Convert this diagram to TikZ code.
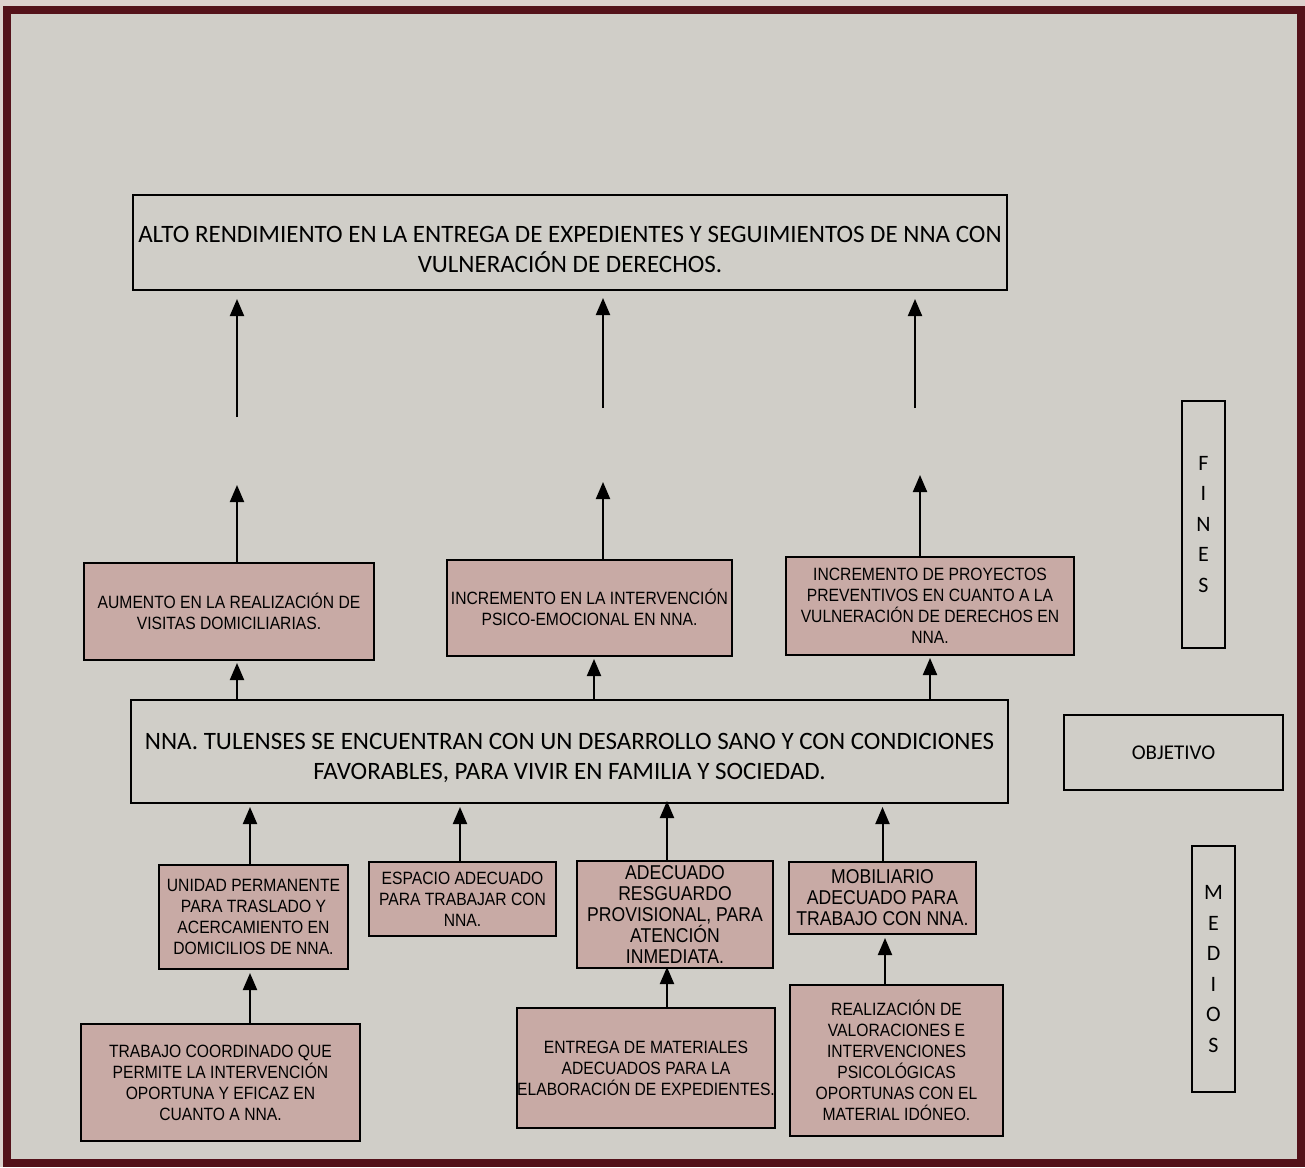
\documentclass[tikz,border=0pt]{standalone}
\usepackage{fontspec}
\setmainfont{Carlito}
\newfontfamily\cajafont[FakeStretch=0.88]{Liberation Sans}
\usetikzlibrary{arrows.meta}

\definecolor{marco}{HTML}{54121A}
\definecolor{fondo}{HTML}{D0CEC8}
\definecolor{afuera}{HTML}{DDD2CE}
\definecolor{rosa}{HTML}{C8AAA5}

\tikzset{
  caja/.style={draw=black, line width=2pt, fill=rosa, align=center, inner sep=0pt,
    font=\cajafont\fontsize{17.8}{21}\selectfont},
  cajagrande/.style={caja, font=\cajafont\fontsize{20}{21}\selectfont},
  marcobox/.style={draw=black, line width=2pt, align=center, inner sep=0pt,
    font=\fontsize{25}{30}\selectfont},
  letras/.style={marcobox, font=\fontsize{22}{30.5}\selectfont},
  flecha/.style={line width=2pt, -{Triangle[length=17pt,width=14pt]}},
}

\begin{document}
\begin{tikzpicture}[x=1pt,y=-1pt]

	\useasboundingbox[fill=afuera] (0,0) rectangle (1305,1167);
	\draw[marco, line width=8pt, fill=fondo] (7,10) rectangle (1301,1163);

	% fin
	\node[marcobox, minimum width=874pt, minimum height=95pt, text height=60pt] (fin) at (570,242.5)
	    {ALTO RENDIMIENTO EN LA ENTREGA DE EXPEDIENTES Y SEGUIMIENTOS DE NNA CON\\VULNERACIÓN DE DERECHOS.};

	% fines
	\node[caja, minimum width=290pt, minimum height=97pt] (aumento) at (229,611.5)
	    {AUMENTO EN LA REALIZACIÓN DE\\VISITAS DOMICILIARIAS.};
	\node[caja, minimum width=285pt, minimum height=96pt, text depth=2pt] (intervencion) at (589.5,608)
	    {INCREMENTO EN LA INTERVENCIÓN\\PSICO-EMOCIONAL EN NNA.};
	\node[caja, minimum width=288pt, minimum height=98pt] (proyectos) at (930,606)
	    {INCREMENTO DE PROYECTOS\\PREVENTIVOS EN CUANTO A LA\\VULNERACIÓN DE DERECHOS EN\\NNA.};

	% objetivo
	\node[marcobox, minimum width=877pt, minimum height=103pt, text height=59pt] (obj) at (569.5,751.5)
	    {NNA. TULENSES SE ENCUENTRAN CON UN DESARROLLO SANO Y CON CONDICIONES\\FAVORABLES, PARA VIVIR EN FAMILIA Y SOCIEDAD.};

	% medios
	\node[caja, minimum width=189pt, minimum height=104pt] (unidad) at (253.5,917)
	    {UNIDAD PERMANENTE\\PARA TRASLADO Y\\ACERCAMIENTO EN\\DOMICILIOS DE NNA.};
	\node[caja, minimum width=187pt, minimum height=74pt] (espacio) at (462.5,899)
	    {ESPACIO ADECUADO\\PARA TRABAJAR CON\\NNA.};
	\node[cajagrande, minimum width=196pt, minimum height=107pt] (resguardo) at (675,914.5)
	    {ADECUADO\\RESGUARDO\\PROVISIONAL, PARA\\ATENCIÓN\\INMEDIATA.};
	\node[cajagrande, minimum width=187pt, minimum height=72pt] (mobiliario) at (882.5,898)
	    {MOBILIARIO\\ADECUADO PARA\\TRABAJO CON NNA.};

	\node[caja, minimum width=279pt, minimum height=117pt] (trabajo) at (220.5,1082.5)
	    {TRABAJO COORDINADO QUE\\PERMITE LA INTERVENCIÓN\\OPORTUNA Y EFICAZ EN\\CUANTO A NNA.};
	\node[caja, minimum width=258pt, minimum height=120pt] (entrega) at (646,1068)
	    {ENTREGA DE MATERIALES\\ADECUADOS PARA LA\\ELABORACIÓN DE EXPEDIENTES.};
	\node[caja, minimum width=213pt, minimum height=151pt] (realizacion) at (896.5,1060.5)
	    {REALIZACIÓN DE\\VALORACIONES E\\INTERVENCIONES\\PSICOLÓGICAS\\OPORTUNAS CON EL\\MATERIAL IDÓNEO.};

	% etiquetas al lado
	\node[letras, minimum width=43pt, minimum height=247pt] (fines) at (1203.5,524.5) {F\\I\\N\\E\\S};
	\node[marcobox, minimum width=219pt, minimum height=75pt, font=\fontsize{21}{25}\selectfont] (objetivo) at (1173.5,752.5) {OBJETIVO};
	\node[letras, minimum width=43pt, minimum height=246pt] (medios) at (1213.5,969) {M\\E\\D\\I\\O\\S};

	% flechas con corte
	\coordinate (g1) at (237,417);
	\coordinate (g2) at (603,408);
	\coordinate (g3) at (915,408);
	\coordinate (h1) at (237,485);
	\coordinate (h2) at (603,482);
	\coordinate (h3) at (920,475);

	\draw[flecha, shorten >=8pt] (g1) -- (g1 |- fin.south);
	\draw[flecha, shorten >=7pt] (g2) -- (g2 |- fin.south);
	\draw[flecha, shorten >=8pt] (g3) -- (g3 |- fin.south);
	\draw[flecha] (h1 |- aumento.north) -- (h1);
	\draw[flecha] (h2 |- intervencion.north) -- (h2);
	\draw[flecha] (h3 |- proyectos.north) -- (h3);

	% objetivo -> fines
	\draw[flecha, shorten >=2pt] ([xshift=8pt]aumento.south |- obj.north) -- ([xshift=8pt]aumento.south);
	\draw[flecha, shorten >=2pt] ([xshift=4.5pt]intervencion.south |- obj.north) -- ([xshift=4.5pt]intervencion.south);
	\draw[flecha, shorten >=2pt] (proyectos.south |- obj.north) -- (proyectos.south);

	% medios -> objetivo
	\draw[flecha, shorten >=3pt] ([xshift=-3.5pt]unidad.north) -- ([xshift=-3.5pt]unidad.north |- obj.south);
	\draw[flecha, shorten >=3pt] ([xshift=-2.5pt]espacio.north) -- ([xshift=-2.5pt]espacio.north |- obj.south);
	\draw[flecha, shorten >=-3pt] ([xshift=-8pt]resguardo.north) -- ([xshift=-8pt]resguardo.north |- obj.south);
	\draw[flecha, shorten >=3pt] (mobiliario.north) -- (mobiliario.north |- obj.south);

	\draw[flecha, shorten >=3pt] ([xshift=-3.5pt]unidad.south |- trabajo.north) -- ([xshift=-3.5pt]unidad.south);
	\draw[flecha, shorten >=-2pt] ([xshift=-8pt]resguardo.south |- entrega.north) -- ([xshift=-8pt]resguardo.south);
	\draw[flecha, shorten >=3pt] ([xshift=2.5pt]mobiliario.south |- realizacion.north) -- ([xshift=2.5pt]mobiliario.south);

\end{tikzpicture}
\end{document}
